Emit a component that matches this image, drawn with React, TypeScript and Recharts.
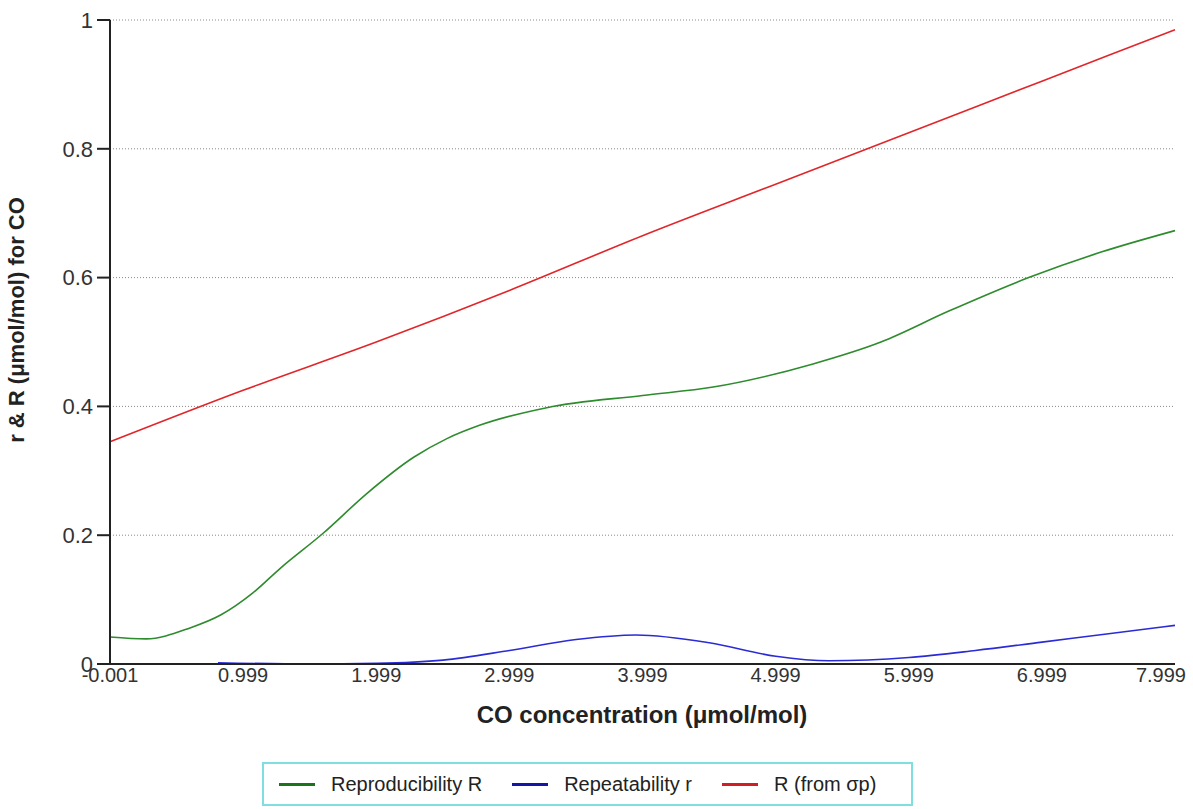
import { LineChart, Line, XAxis, YAxis, CartesianGrid, Legend, Label } from 'recharts';

// CO concentration (µmol/mol) vs r & R
const xTicks = [-0.001, 0.999, 1.999, 2.999, 3.999, 4.999, 5.999, 6.999, 7.999];
const yTicks = [0, 0.2, 0.4, 0.6, 0.8, 1];

const reproX = [-0.001, 0.27, 0.6, 0.83, 1.07, 1.28, 1.6, 1.93, 2.28, 2.53, 2.78, 3.28, 4.0, 4.53, 5.28, 5.79, 6.3, 6.9, 7.45, 7.999];
const reproY = [0.042, 0.039, 0.056, 0.076, 0.11, 0.149, 0.203, 0.265, 0.321, 0.35, 0.371, 0.398, 0.417, 0.43, 0.466, 0.5, 0.548, 0.6, 0.64, 0.673];

const repeatX = [0.81, 1.5, 2.0, 2.5, 3.0, 3.5, 3.95, 4.5, 5.0, 5.4, 6.0, 6.5, 7.0, 7.5, 7.999];
const repeatY = [0.002, 0.0, 0.001, 0.006, 0.021, 0.038, 0.045, 0.033, 0.012, 0.005, 0.01, 0.021, 0.034, 0.047, 0.06];

const sigmaX = [-0.001, 0.999, 1.999, 2.999, 3.999, 4.999, 5.999, 6.999, 7.999];
const sigmaY = [0.345, 0.425, 0.5, 0.58, 0.665, 0.745, 0.825, 0.905, 0.985];

const zip = (xs: number[], ys: number[]) => xs.map((x, i) => ({ x, y: ys[i] }));
const reproData = zip(reproX, reproY);
const repeatData = zip(repeatX, repeatY);
const sigmaData = zip(sigmaX, sigmaY);

const series = [
  { name: 'Reproducibility R', data: reproData, color: '#2e8b2e', legend: '#1c731c' },
  { name: 'Repeatability r', data: repeatData, color: '#2b2bd6', legend: '#1515a8' },
  { name: 'R (from σp)', data: sigmaData, color: '#e0262b', legend: '#d01e24' },
];

const font = 'Arial, "Liberation Sans", sans-serif';

function XTick(props: any) {
  const { x, y, payload, index } = props;
  const last = index === xTicks.length - 1;
  return (
    <text x={last ? x + 11 : x} y={y} dy="0.71em" textAnchor={last ? 'end' : 'middle'}
      fontFamily={font} fontSize={20} fill="#333">
      {payload.value}
    </text>
  );
}

function LegendBox() {
  return (
    <div style={{
      boxSizing: 'border-box', height: 44, border: '2px solid #7fdfe0', display: 'flex',
      alignItems: 'center', paddingLeft: 15, fontFamily: font, fontSize: 20, color: '#222',
    }}>
      {series.map(s => (
        <div key={s.name} style={{ display: 'flex', alignItems: 'center', marginRight: 30 }}>
          <div style={{ width: 36, height: 3, background: s.legend, marginRight: 16 }} />
          <span>{s.name}</span>
        </div>
      ))}
    </div>
  );
}

export default function App() {
  return (
    <div style={{ position: 'absolute', left: 0, top: 0 }}>
      <LineChart width={1193} height={809} margin={{ top: 20, right: 18, left: 0, bottom: 3 }}>
        <CartesianGrid vertical={false} stroke="#888" strokeDasharray="1 2" />
        <XAxis type="number" dataKey="x" domain={[-0.001, 7.999]} ticks={xTicks} height={98}
          allowDuplicatedCategory={false} tickLine={false} tickSize={0} tickMargin={4}
          axisLine={{ stroke: '#222', strokeWidth: 2 }} tick={<XTick />} interval={0}>
          <Label content={() => (
            <text x={642} y={723} textAnchor="middle" fontFamily={font} fontWeight="bold" fontSize={24} fill="#222">
              CO concentration (μmol/mol)
            </text>
          )} />
        </XAxis>
        <YAxis type="number" domain={[0, 1]} ticks={yTicks} width={110} interval={0}
          tickSize={13} tickMargin={4} tickLine={{ stroke: '#222', strokeWidth: 2 }}
          axisLine={{ stroke: '#222', strokeWidth: 2 }}
          tick={{ fontFamily: font, fontSize: 22, fill: '#333' }}>
          <Label content={() => (
            <text x={24} y={320} transform="rotate(-90, 24, 320)" textAnchor="middle"
              fontFamily={font} fontWeight="bold" fontSize={22} fill="#222">
              r &amp; R (μmol/mol) for CO
            </text>
          )} />
        </YAxis>
        <Legend verticalAlign="bottom" wrapperStyle={{ left: 262, width: 651 }} content={<LegendBox />} />
        {series.map(s => (
          <Line key={s.name} name={s.name} data={s.data} dataKey="y" type="monotone" stroke={s.color}
            strokeWidth={1.6} dot={false} activeDot={false} isAnimationActive={false} />
        ))}
      </LineChart>
    </div>
  );
}
